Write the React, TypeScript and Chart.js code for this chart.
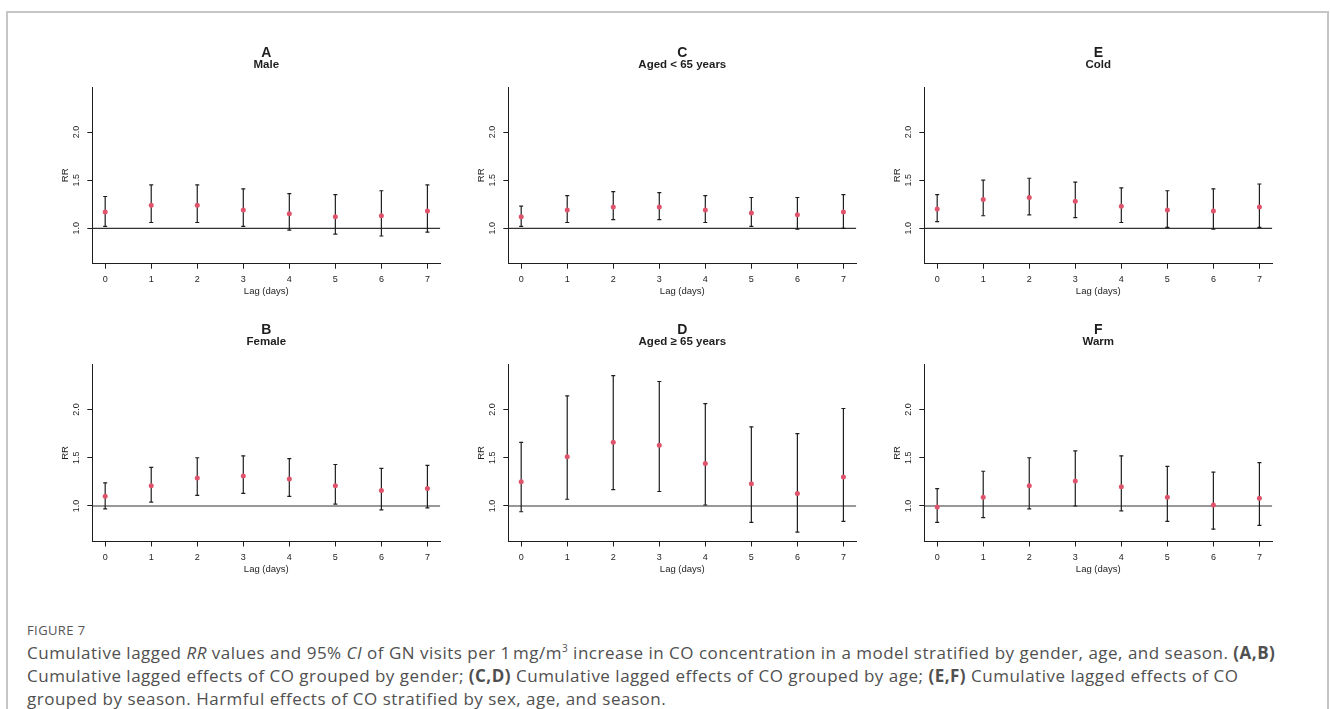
import React, { useEffect, useRef } from "react";
import { Chart, registerables } from "chart.js";

Chart.register(...registerables);

// ---------- data ----------
const LAGS = [0, 1, 2, 3, 4, 5, 6, 7];
const X_TICKS = [0, 1, 2, 3, 4, 5, 6, 7];
const Y_TICKS = [1.0, 1.5, 2.0];
const Y_TICK_LABELS = ["1.0", "1.5", "2.0"];
const X_LIM = [0, 7];
const Y_LIM = [0.7, 2.4];
const REF_RR = 1;

// A: Male
const MALE_RR = [1.17, 1.24, 1.24, 1.19, 1.15, 1.12, 1.13, 1.18];
const MALE_LO = [1.02, 1.06, 1.06, 1.02, 0.98, 0.94, 0.92, 0.96];
const MALE_HI = [1.33, 1.45, 1.45, 1.41, 1.36, 1.35, 1.39, 1.45];

// B: Female
const FEMALE_RR = [1.1, 1.21, 1.29, 1.31, 1.28, 1.21, 1.16, 1.18];
const FEMALE_LO = [0.97, 1.04, 1.11, 1.13, 1.1, 1.02, 0.96, 0.98];
const FEMALE_HI = [1.24, 1.4, 1.5, 1.52, 1.49, 1.43, 1.39, 1.42];

// C: Aged < 65
const YOUNG_RR = [1.12, 1.19, 1.22, 1.22, 1.19, 1.16, 1.14, 1.17];
const YOUNG_LO = [1.02, 1.06, 1.09, 1.09, 1.06, 1.02, 0.99, 1.0];
const YOUNG_HI = [1.23, 1.34, 1.38, 1.37, 1.34, 1.32, 1.32, 1.35];

// D: Aged >= 65
const OLD_RR = [1.25, 1.51, 1.66, 1.63, 1.44, 1.23, 1.13, 1.3];
const OLD_LO = [0.94, 1.07, 1.17, 1.15, 1.01, 0.83, 0.73, 0.84];
const OLD_HI = [1.66, 2.14, 2.35, 2.29, 2.06, 1.82, 1.75, 2.01];

// E: Cold
const COLD_RR = [1.2, 1.3, 1.32, 1.28, 1.23, 1.19, 1.18, 1.22];
const COLD_LO = [1.07, 1.13, 1.14, 1.11, 1.06, 1.01, 0.99, 1.01];
const COLD_HI = [1.35, 1.5, 1.52, 1.48, 1.42, 1.39, 1.41, 1.46];

// F: Warm
const WARM_RR = [0.99, 1.09, 1.21, 1.26, 1.2, 1.09, 1.01, 1.08];
const WARM_LO = [0.83, 0.88, 0.97, 1.0, 0.95, 0.84, 0.76, 0.8];
const WARM_HI = [1.18, 1.36, 1.5, 1.57, 1.52, 1.41, 1.35, 1.45];

const PANEL_LETTERS = ["A", "C", "E", "B", "D", "F"];
const PANEL_TITLES = ["Male", "Aged < 65 years", "Cold", "Female", "Aged \u2265 65 years", "Warm"];
const PANEL_RR = [MALE_RR, YOUNG_RR, COLD_RR, FEMALE_RR, OLD_RR, WARM_RR];
const PANEL_LO = [MALE_LO, YOUNG_LO, COLD_LO, FEMALE_LO, OLD_LO, WARM_LO];
const PANEL_HI = [MALE_HI, YOUNG_HI, COLD_HI, FEMALE_HI, OLD_HI, WARM_HI];

const FONT = '"Liberation Sans", Arial, Helvetica, sans-serif';
const POINT_COLOR = "#DF536B";
const INK = "#1e1e1e";

const CW = 416;
const CH = 277;

function extend(a: number, b: number) {
  const r = b - a;
  return [a - 0.04 * r, b + 0.04 * r];
}

type PanelProps = {
  letter: string;
  title: string;
  rr: number[];
  lo: number[];
  hi: number[];
  left: number;
  top: number;
  padTop: number;
  padBottom: number;
};

function Panel({ letter, title, rr, lo, hi, left, top, padTop, padBottom }: PanelProps) {
  const ref = useRef<HTMLCanvasElement>(null);
  useEffect(() => {
    if (!ref.current) return;
    const [xmin, xmax] = extend(X_LIM[0], X_LIM[1]);
    const [ymin, ymax] = extend(Y_LIM[0], Y_LIM[1]);
    const datasets: any[] = [];
    datasets.push({
      type: "scatter",
      data: LAGS.map((x, i) => ({ x, y: rr[i] })),
      pointRadius: 2.5,
      pointBackgroundColor: POINT_COLOR,
      pointBorderColor: POINT_COLOR,
      pointBorderWidth: 0,
      showLine: false,
    });
    LAGS.forEach((x, i) => {
      datasets.push({
        type: "line",
        data: [
          { x, y: lo[i] },
          { x, y: hi[i] },
        ],
        borderColor: INK,
        borderWidth: 1.2,
        pointStyle: "line",
        pointRadius: 2,
        pointBorderColor: INK,
        pointBackgroundColor: INK,
        pointBorderWidth: 1.2,
        fill: false,
      });
    });
    datasets.push({
      type: "line",
      data: [
        { x: xmin, y: REF_RR },
        { x: xmax, y: REF_RR },
      ],
      borderColor: "#333",
      borderWidth: 1.2,
      pointRadius: 0,
      fill: false,
    });

    const textPlugin = {
      id: "rtext",
      afterDraw(chart: any) {
        const { ctx, chartArea: ca } = chart;
        const xs = chart.scales.x;
        const ys = chart.scales.y;
        ctx.save();
        ctx.fillStyle = INK;
        ctx.textAlign = "center";
        ctx.textBaseline = "middle";
        const cx = (ca.left + ca.right) / 2;
        ctx.font = `bold 14px ${FONT}`;
        ctx.fillText(letter, cx, ca.top - 34);
        ctx.font = `bold 11.5px ${FONT}`;
        ctx.fillText(title, cx, ca.top - 22);
        ctx.font = `9px ${FONT}`;
        X_TICKS.forEach((v) => ctx.fillText(String(v), xs.getPixelForValue(v), ca.bottom + 16.3));
        ctx.font = `9.5px ${FONT}`;
        ctx.fillText("Lag (days)", cx, ca.bottom + 28);
        Y_TICKS.forEach((v, i) => {
          ctx.save();
          ctx.translate(ca.left - 15.5, ys.getPixelForValue(v));
          ctx.rotate(-Math.PI / 2);
          ctx.font = `9px ${FONT}`;
          ctx.fillText(Y_TICK_LABELS[i], 0, 0);
          ctx.restore();
        });
        ctx.save();
        ctx.translate(ca.left - 27, (ca.top + ca.bottom) / 2);
        ctx.rotate(-Math.PI / 2);
        ctx.font = `9.5px ${FONT}`;
        ctx.fillText("RR", 0, 0);
        ctx.restore();
        ctx.restore();
      },
    };

    const axisCommon = {
      ticks: { display: false },
      grid: { drawOnChartArea: false, drawTicks: true, tickLength: 5, color: INK, lineWidth: 1 },
      border: { display: true, color: INK, width: 1 },
    };

    const chart = new Chart(ref.current, {
      type: "scatter",
      data: { datasets },
      options: {
        animation: false,
        responsive: false,
        devicePixelRatio: 1,
        events: [],
        layout: { padding: { left: 47.3, right: 15.7, top: padTop, bottom: padBottom } },
        plugins: { legend: { display: false }, tooltip: { enabled: false } },
        scales: {
          x: {
            type: "linear",
            min: xmin,
            max: xmax,
            afterBuildTicks: (s: any) => {
              s.ticks = X_TICKS.map((v) => ({ value: v }));
            },
            ...axisCommon,
          },
          y: {
            type: "linear",
            min: ymin,
            max: ymax,
            afterBuildTicks: (s: any) => {
              s.ticks = Y_TICKS.map((v) => ({ value: v }));
            },
            ...axisCommon,
          },
        },
      } as any,
      plugins: [textPlugin],
    });
    return () => chart.destroy();
  }, []);
  return (
    <canvas
      ref={ref}
      width={CW}
      height={CH}
      style={{ position: "absolute", left, top, width: CW, height: CH }}
    />
  );
}

export default function App() {
  const rows = [
    { top: 20, padTop: 67.0, padBottom: 28.3 },
    { top: 297, padTop: 67.3, padBottom: 27.5 },
  ];
  return (
    <div
      style={{
        position: "absolute",
        left: 0,
        top: 0,
        width: 1330,
        height: 709,
        overflow: "hidden",
        background: "#fff",
      }}
    >
      <div
        style={{
          position: "absolute",
          left: 6,
          top: 11,
          width: 1323,
          height: 698,
          boxSizing: "border-box",
          borderTop: "2px solid #c6c6c6",
          borderLeft: "2px solid #c6c6c6",
          borderRight: "2px solid #c6c6c6",
        }}
      />
      {PANEL_LETTERS.map((letter, k) => {
        const row = Math.floor(k / 3);
        const col = k % 3;
        return (
          <Panel
            key={letter}
            letter={letter}
            title={PANEL_TITLES[k]}
            rr={PANEL_RR[k]}
            lo={PANEL_LO[k]}
            hi={PANEL_HI[k]}
            left={40 + 416 * col}
            top={rows[row].top}
            padTop={rows[row].padTop}
            padBottom={rows[row].padBottom}
          />
        );
      })}
      <div
        style={{
          position: "absolute",
          left: 27,
          top: 619,
          color: "#505050",
          fontFamily: '"Open Sans", sans-serif',
          whiteSpace: "nowrap",
        }}
      >
        <div style={{ fontSize: 13, lineHeight: "22px", color: "#555", letterSpacing: "0.4px" }}>FIGURE 7</div>
        <div style={{ fontSize: 17, lineHeight: "23px", letterSpacing: "0.5px" }}>
          Cumulative lagged <i>RR</i> values and 95% <i>CI</i> of GN visits per 1&#8202;mg/m
          <sup style={{ fontSize: 10, lineHeight: 0 }}>3</sup> increase in CO concentration in a model stratified by
          gender, age, and season. <b>(A,B)</b>
          <br />
          Cumulative lagged effects of CO grouped by gender; <b>(C,D)</b> Cumulative lagged effects of CO grouped by
          age; <b>(E,F)</b> Cumulative lagged effects of CO
          <br />
          grouped by season. Harmful effects of CO stratified by sex, age, and season.
        </div>
      </div>
    </div>
  );
}
